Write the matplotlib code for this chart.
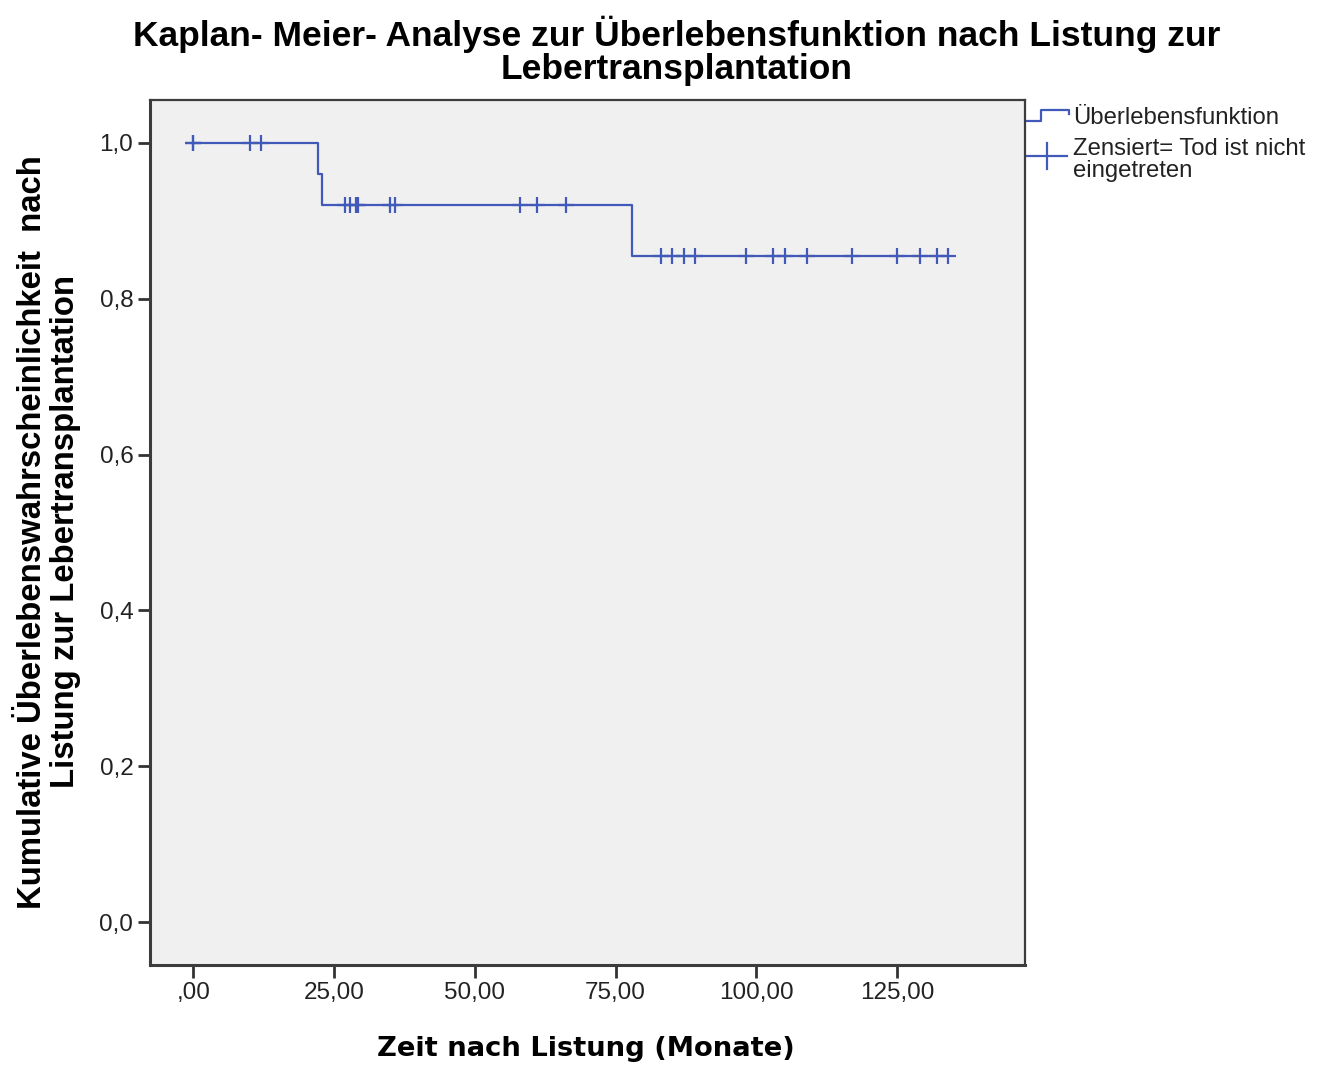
import numpy as np
import matplotlib.pyplot as plt
from matplotlib.lines import Line2D

# Beobachtungszeiten (Monate) und Status (1 = verstorben, 0 = zensiert)
times = [0, 0, 10, 12, 22.1, 22.9, 27, 27.8, 28.9, 29.3, 34.9, 35.9, 58, 61.1, 66.1,
         77.9, 83, 85, 87.1, 89.1, 98.1, 103, 105, 109, 117, 125, 129, 132, 134]
events = [0, 0, 0, 0, 1, 1, 0, 0, 0, 0, 0, 0, 0, 0, 0,
          1, 0, 0, 0, 0, 0, 0, 0, 0, 0, 0, 0, 0, 0]

x_ticks = [0, 25, 50, 75, 100, 125]
x_ticklabels = [",00", "25,00", "50,00", "75,00", "100,00", "125,00"]
y_ticks = [0.0, 0.2, 0.4, 0.6, 0.8, 1.0]
y_ticklabels = ["0,0", "0,2", "0,4", "0,6", "0,8", "1,0"]

blue = "#4159B8"

# Kaplan-Meier Schätzer
t = np.array(times, dtype=float)
e = np.array(events)
step_x = [0.0]
step_y = [1.0]
surv = 1.0
for ti in np.unique(t[e == 1]):
    at_risk = np.sum(t >= ti)
    d = np.sum((t == ti) & (e == 1))
    step_x.append(ti)
    step_y.append(surv)
    surv = surv * (1 - d / at_risk)
    step_x.append(ti)
    step_y.append(surv)
step_x.append(t.max())
step_y.append(surv)

# Wert der Kurve an den zensierten Zeitpunkten
cens_t = t[e == 0]
cens_s = np.array([step_y[max(i for i, sx in enumerate(step_x) if sx <= c)] for c in cens_t])

plt.rcParams["font.family"] = ["Liberation Sans", "DejaVu Sans"]

fig = plt.figure(figsize=(13.3, 10.66), dpi=100)
ax = fig.add_axes([150 / 1330, 1 - 965 / 1066, 875 / 1330, 865 / 1066])
ax.set_facecolor("#F0F0F0")

ax.plot(step_x, step_y, color=blue, lw=1.6)
ax.plot(cens_t, cens_s, linestyle="none", marker="+", markersize=11,
        markeredgewidth=1.6, color=blue)

ax.set_xlim(-7.7, 147.7)
ax.set_ylim(-0.055, 1.055)
ax.set_xticks(x_ticks)
ax.set_xticklabels(x_ticklabels)
ax.set_yticks(y_ticks)
ax.set_yticklabels(y_ticklabels)
ax.tick_params(direction="out", length=9, width=2, color="#333333",
               labelsize=17.5, labelcolor="#222222", pad=3)
for side in ["left", "bottom", "top", "right"]:
    ax.spines[side].set_color("#3C3C3C")
    ax.spines[side].set_linewidth(1.6)
ax.spines["left"].set_linewidth(2.2)
ax.spines["bottom"].set_linewidth(2.2)

fig.text(0.509, 1 - 51 / 1066,
         "Kaplan- Meier- Analyse zur Überlebensfunktion nach Listung zur\nLebertransplantation",
         ha="center", va="center", fontsize=25.5, fontweight="bold", linespacing=1.0)
fig.text(586 / 1330, 1 - 1049 / 1066, "Zeit nach Listung (Monate)",
         ha="center", va="center", fontsize=19.7, fontweight="bold",
         family=["DejaVu Sans"])
fig.text(49 / 1330, 1 - 532 / 1066,
         "Kumulative Überlebenswahrscheinlichkeit  nach\nListung zur Lebertransplantation",
         ha="center", va="center", rotation=90, fontsize=23.7, fontweight="bold",
         linespacing=1.05)

# Legende rechts neben dem Diagramm
lx0 = 1.002
ax.add_line(Line2D([lx0, 1.018, 1.018, 1.05, 1.05], [0.976, 0.976, 0.988, 0.988, 0.984],
                   transform=ax.transAxes, color=blue, lw=1.6, clip_on=False))
ax.text(1.055, 0.979, "Überlebensfunktion", transform=ax.transAxes,
        fontsize=17.2, va="center", ha="left", color="#222222")
ax.add_line(Line2D([lx0, 1.048], [0.935, 0.935],
                   transform=ax.transAxes, color=blue, lw=1.6, clip_on=False))
ax.add_line(Line2D([1.025, 1.025], [0.92, 0.95],
                   transform=ax.transAxes, color=blue, lw=1.6, clip_on=False))
ax.text(1.055, 0.931, "Zensiert= Tod ist nicht\neingetreten", transform=ax.transAxes,
        fontsize=17.2, va="center", ha="left", color="#222222", linespacing=1.0)

fig.savefig("out.png", dpi=100, facecolor="white")
